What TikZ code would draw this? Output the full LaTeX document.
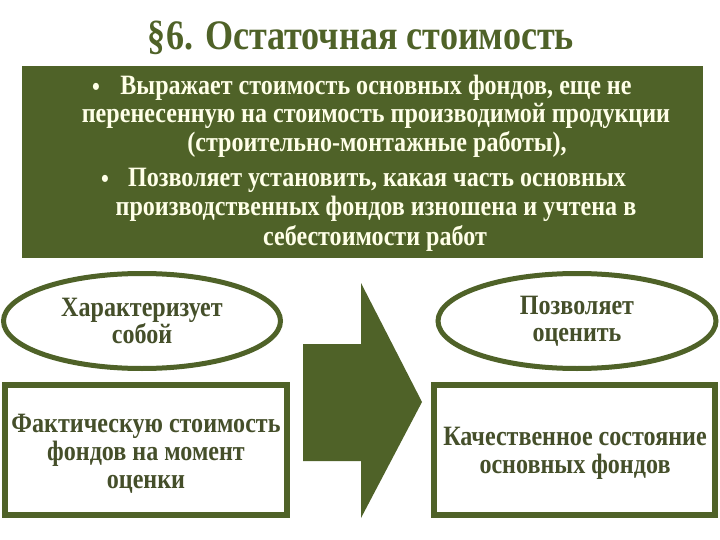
\documentclass[tikz,border=0pt]{standalone}
\usepackage{fontspec}
\setmainfont{Liberation Serif}[FakeStretch=0.86]
\usetikzlibrary{shapes.geometric}
\definecolor{olivedark}{HTML}{4F6228}
\definecolor{creamtext}{HTML}{FFFFE8}
\definecolor{labeltext}{HTML}{454F2A}
\tikzset{
  titletext/.style={anchor=base, inner sep=0pt, text=olivedark, font=\fontsize{42}{48}\selectfont\bfseries},
  boxline/.style={anchor=base, inner sep=0pt, text=creamtext, font=\fontsize{28}{30}\selectfont\bfseries},
  bulletmark/.style={anchor=base, inner sep=0pt, text=creamtext, font=\fontsize{26}{28}\selectfont\bfseries},
  ovalnode/.style={ellipse, draw=olivedark, line width=5pt, fill=white, text=labeltext,
    minimum width=277pt, minimum height=95pt, align=center, inner sep=0pt,
    font=\fontsize{28}{27}\selectfont\bfseries},
  framebox/.style={rectangle, draw=olivedark, line width=6pt, fill=white,
    minimum height=130pt, inner sep=0pt},
  frametext/.style={text=labeltext, align=center, inner sep=0pt,
    font=\fontsize{28}{28}\selectfont\bfseries}
}
\begin{document}
\begin{tikzpicture}[x=1pt,y=-1pt]
\useasboundingbox (0,0) rectangle (720,540);
\fill[white] (0,0) rectangle (720,540);

\node[titletext] (title) at (361,50) {§6. Остаточная стоимость};

\fill[olivedark] (22,66) rectangle (703,258);
\node[bulletmark] (bul1) at (96,96) {•};
\node[boxline] (l1) at (376,95) {Выражает стоимость основных фондов, еще не};
\node[boxline] (l2) at (376,123) {перенесенную на стоимость производимой продукции};
\node[boxline] (l3) at (377,152) {(строительно-монтажные работы),};
\node[bulletmark] (bul2) at (105,188) {•};
\node[boxline] (l4) at (377,187) {Позволяет установить, какая часть основных};
\node[boxline] (l5) at (376,215) {производственных фондов изношена и учтена в};
\node[boxline] (l6) at (375,245) {себестоимости работ};

\node[ovalnode] (ovl) at (142,321) {Характеризует\\собой};
\node[ovalnode, minimum width=278pt] (ovr) at (577,321) {Позволяет\\оценить};

\node[framebox, minimum width=282pt] (rl) at (146,450) {};
\node[frametext] (rltext) at (146,454) {Фактическую стоимость\\фондов на момент\\оценки};
\node[framebox, minimum width=281pt] (rr) at (574.5,450) {};
\node[frametext] (rrtext) at (575,453) {Качественное состояние\\основных фондов};

\fill[olivedark] (303,344) -- (361,344) -- (361,283) -- (422,402) -- (361,518) -- (361,461) -- (303,461) -- cycle;
\end{tikzpicture}
\end{document}
